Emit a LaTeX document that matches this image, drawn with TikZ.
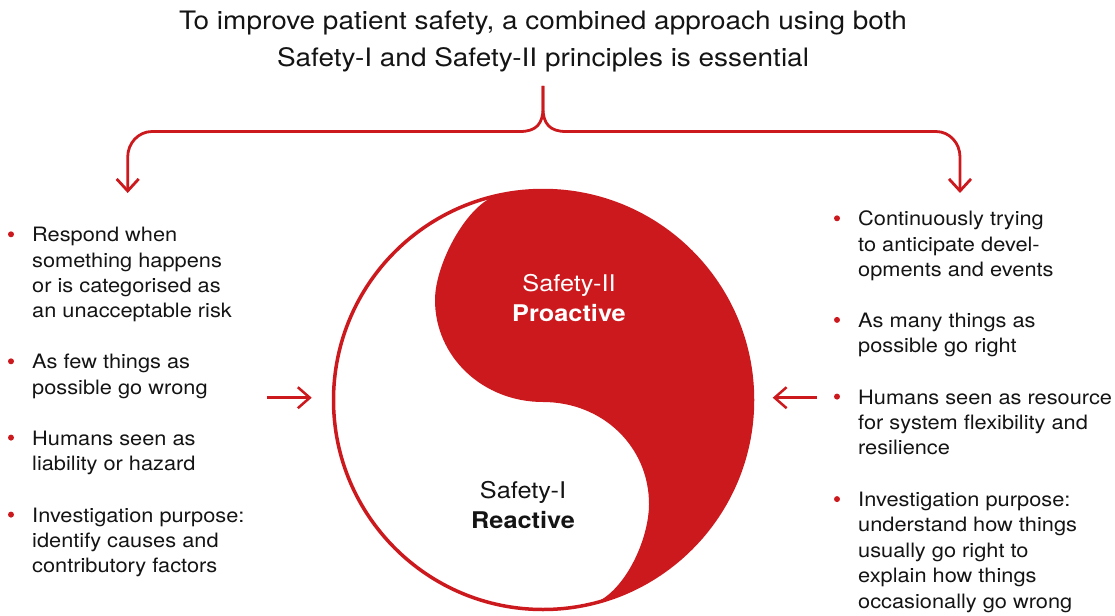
\documentclass[tikz,border=0pt]{standalone}
\usepackage{fontspec}
\setmainfont{TeX Gyre Heros}[FakeStretch=1.1]
\usetikzlibrary{arrows.meta}
\definecolor{sred}{RGB}{204,25,30}
\definecolor{ink}{RGB}{20,20,20}
\begin{document}
\begin{tikzpicture}[x=1pt,y=-1pt,
  txt/.style={anchor=base west, align=left, inner sep=0pt, text=ink,
    font=\fontsize{19.8}{25.4}\selectfont},
  ttl/.style={anchor=base, align=center, inner sep=0pt, text=ink,
    font=\fontsize{25.4}{37}\selectfont},
  lab/.style={anchor=base, inner sep=0pt, font=\fontsize{23}{30}\selectfont},
  dot/.style={circle, fill=sred, inner sep=0pt, minimum size=6pt},
  brace/.style={draw=sred, line width=2.8pt, line cap=butt,
    -{Straight Barb[length=12pt,width=22pt]}},
  arr/.style={draw=sred, line width=2.5pt,
    -{Straight Barb[length=12pt,width=21pt]}},
]
\useasboundingbox (0,0) rectangle (1115,615);

% title (base anchor = baseline of last line)
\node[ttl] (title) at (543,67) {To improve patient safety, a combined approach using both\\Safety-I and Safety-II principles is essential};

% brace
\coordinate (bt) at (543,86);
\coordinate (lt) at (127.7,193);
\coordinate (rt) at (960,193);
\draw[brace] (bt) -- (543,108) .. controls (543,124) and (536,131.5) .. (520,131.5)
  -- (152,131.5) .. controls (138.6,131.5) and (127.7,143) .. (127.7,157) -- (lt);
\draw[brace] (bt) -- (543,108) .. controls (543,124) and (550,131.5) .. (566,131.5)
  -- (936,131.5) .. controls (949.4,131.5) and (960,143) .. (960,157) -- (rt);

% yin-yang
\fill[sred] (494,196.5) arc[start angle=-103.6, end angle=76.7, radius=209.5]
  .. controls (623,595) and (649,541) .. (649,504)
  .. controls (649,447) and (603,402) .. (543,402)
  .. controls (483,402) and (435,357) .. (435,300)
  .. controls (435,265) and (465,208) .. cycle;
\node[circle, draw=sred, line width=3.5pt, minimum size=419pt, inner sep=0pt] (yy) at (543,400) {};

\node[lab, text=white] (s2) at (569,291.7) {Safety-II};
\node[lab, text=white] (p2) at (569,321.7) {\bfseries Proactive};
\node[lab, text=ink] (s1) at (523,498) {Safety-I};
\node[lab, text=ink] (r1) at (523,528.3) {\bfseries Reactive};

% side arrows
\coordinate (la) at (267,397.7);
\coordinate (lb) at (311.7,397.7);
\coordinate (ra) at (816.7,397.7);
\coordinate (rb) at (772.7,397.7);
\draw[arr] (la) -- (lb);
\draw[arr] (ra) -- (rb);

% left list (nodes placed at baseline of their last line)
\node[dot] (ld1) at (11,234.3) {};
\node[txt] (l1) at (32,317.9) {Respond when\\something happens\\or is categorised as\\an unacceptable risk};
\node[dot] (ld2) at (11,361.3) {};
\node[txt] (l2) at (32,394.1) {As few things as\\possible go wrong};
\node[dot] (ld3) at (11,437.6) {};
\node[txt] (l3) at (32,470.4) {Humans seen as\\liability or hazard};
\node[dot] (ld4) at (11,514.6) {};
\node[txt] (l4) at (32,572.8) {Investigation purpose:\\identify causes and\\contributory factors};

% right list
\node[dot] (rd1) at (837,218.3) {};
\node[txt] (r1t) at (858,276.5) {Continuously trying\\to anticipate devel-\\opments and events};
\node[dot] (rd2) at (837,319.9) {};
\node[txt] (r2t) at (858,352.7) {As many things as\\possible go right};
\node[dot] (rd3) at (837,396.6) {};
\node[txt] (r3t) at (858,454.8) {Humans seen as resource\\for system flexibility and\\resilience};
\node[dot] (rd4) at (837,499.1) {};
\node[txt] (r4t) at (858,608.1) {Investigation purpose:\\understand how things\\usually go right to\\explain how things\\occasionally go wrong};
\end{tikzpicture}
\end{document}
